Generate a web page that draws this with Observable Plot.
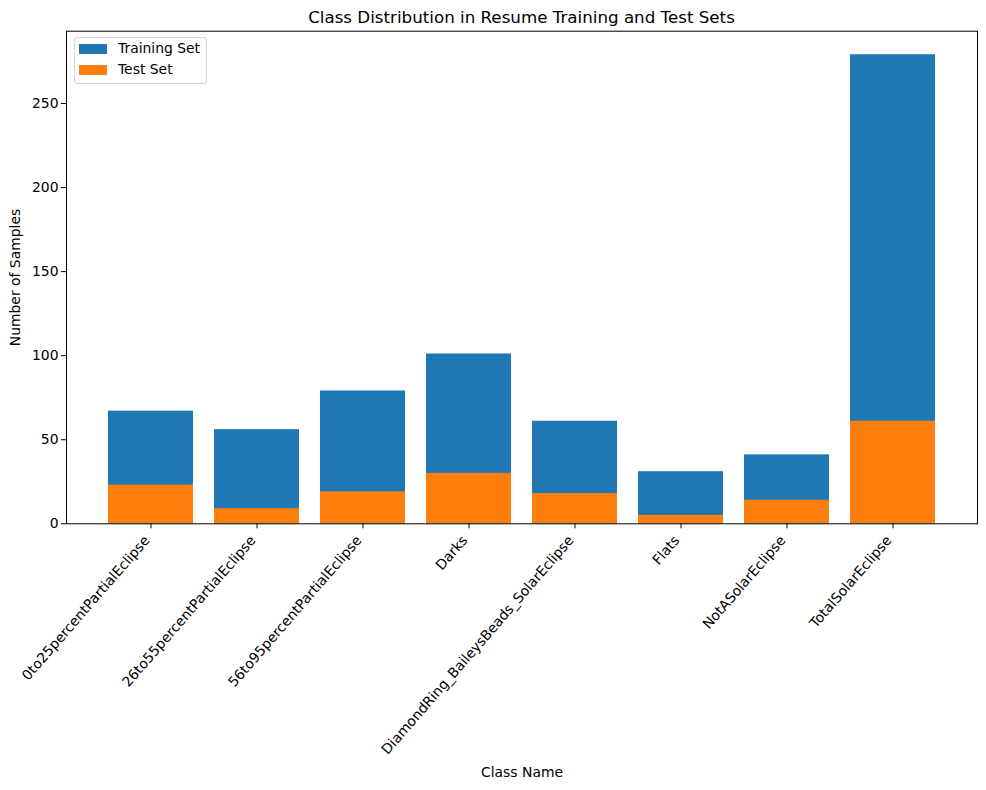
<!DOCTYPE html>
<html>
<head>
<meta charset="utf-8">
<script src="https://cdn.jsdelivr.net/npm/d3@7"></script>
<script src="https://cdn.jsdelivr.net/npm/@observablehq/plot@0.6"></script>
<style>
  body { margin: 0; background: #fff; font-family: "DejaVu Sans", sans-serif; }
  #wrap { position: relative; width: 986px; height: 790px; }
  #title { height: 30px; width: 911px; margin-left: 66px; text-align: center; font-size: 16.7px; line-height: 34px; color: #000; }
  #legend { position: absolute; left: 74px; top: 37px; width: 131px; height: 45px; border: 1px solid #d6d6d6; border-radius: 3px; background: rgba(255,255,255,0.8); font-size: 13.9px; }
  .item { position: absolute; left: 4px; height: 14px; }
  .sw { position: absolute; left: 0; top: 0; width: 28px; height: 10px; }
  .lab { position: absolute; left: 39px; top: -4px; white-space: nowrap; }
</style>
</head>
<body>
<div id="wrap">
  <div id="title">Class Distribution in Resume Training and Test Sets</div>
  <div id="chart"></div>
  <div id="legend"></div>
</div>
<script>
const classes = ["0to25percentPartialEclipse", "26to55percentPartialEclipse", "56to95percentPartialEclipse", "Darks", "DiamondRing_BaileysBeads_SolarEclipse", "Flats", "NotASolarEclipse", "TotalSolarEclipse"];
const trainCounts = [67, 56, 79, 101, 61, 31, 41, 279];
const testCounts = [23, 9, 19, 30, 18, 5, 14, 61];
const seriesNames = ["Training Set", "Test Set"];
const seriesColors = ["#1f77b4", "#ff7f0e"];
const yTicks = [0, 50, 100, 150, 200, 250];

const train = classes.map((c, i) => ({cls: c, value: trainCounts[i]}));
const test = classes.map((c, i) => ({cls: c, value: testCounts[i]}));

const chart = Plot.plot({
  width: 986,
  height: 760,
  marginTop: 0.7,
  marginLeft: 66,
  marginRight: 9,
  marginBottom: 266.7,
  style: {fontFamily: "DejaVu Sans", fontSize: "13.9px", color: "#000", background: "#fff"},
  x: {domain: classes, paddingInner: 0.2, paddingOuter: 0.39, align: 0.5},
  y: {domain: [0, 293]},
  marks: [
    Plot.barY(train, {x: "cls", y: "value", fill: seriesColors[0]}),
    Plot.barY(test, {x: "cls", y: "value", fill: seriesColors[1]}),
    Plot.frame({stroke: "#000", strokeWidth: 1}),
    Plot.axisY({ticks: yTicks, tickSize: 5, tickPadding: 3, label: "Number of Samples", labelAnchor: "center", labelArrow: "none", labelOffset: 56}),
    Plot.axisX({tickSize: 5, text: null, label: null}),
    Plot.axisX({tickSize: 0, tickRotate: -49, tickPadding: 8, dx: -4, dy: 6, label: null}),
    Plot.axisX({tickSize: 0, ticks: [], label: "Class Name", labelAnchor: "center", labelArrow: "none", labelOffset: 253})
  ]
});
document.getElementById("chart").appendChild(chart);

const leg = document.getElementById("legend");
seriesNames.forEach((n, i) => {
  const it = document.createElement("div");
  it.className = "item";
  it.style.top = (6 + i * 21) + "px";
  it.innerHTML = `<div class="sw" style="background:${seriesColors[i]}"></div><div class="lab">${n}</div>`;
  leg.appendChild(it);
});
</script>
</body>
</html>
